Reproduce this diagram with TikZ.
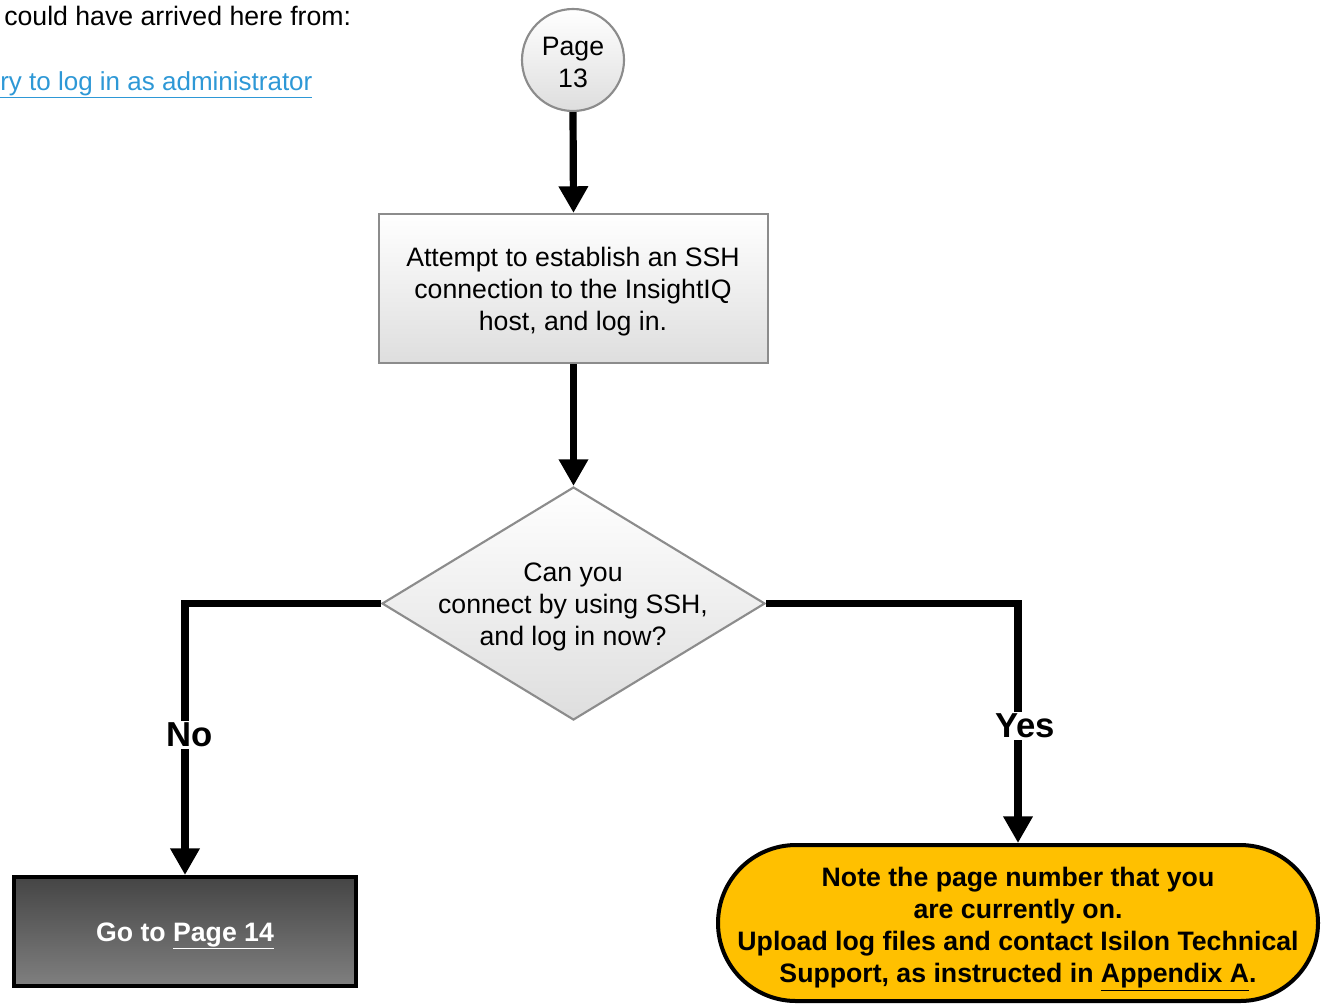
\documentclass[tikz,border=0pt]{standalone}
\usepackage{fontspec}
\setmainfont{Liberation Sans}
\usetikzlibrary{arrows.meta,shapes.geometric}
\definecolor{linkblue}{RGB}{46,152,214}
\definecolor{termfill}{RGB}{255,192,0}
\definecolor{edgegray}{RGB}{140,140,140}
\begin{document}
\begin{tikzpicture}[x=0.75pt,y=-0.75pt,
  txt/.style={font=\fontsize{20pt}{24pt}\selectfont, align=center},
  boldtxt/.style={font=\bfseries\fontsize{20pt}{24pt}\selectfont, align=center},
  softfill/.style={top color=white, bottom color=black!13, draw=edgegray, line width=1.6pt},
  flow/.style={line width=5.4pt, -{Triangle[width=21pt,length=20pt]}},
  branch/.style={font=\bfseries\fontsize{26pt}{30pt}\selectfont, fill=white, inner sep=1.5pt},
]
\useasboundingbox (0,0) rectangle (1326,1004);

% header lines
\node[anchor=base west, inner sep=0, txt] (origin) at (4,25) {could have arrived here from:};
\node[anchor=base west, inner sep=0, font=\fontsize{19.5pt}{24pt}\selectfont, text=linkblue] (link) at (0,90)
  {\underline{ry to log in as administrator}};

% page marker
\node[circle, softfill, minimum size=102*0.75pt, inner sep=0] (start) at (573,60) {};
\node[txt] (starttext) at (573,62) {Page\\13};

% action step
\node[rectangle, softfill, minimum width=389*0.75pt, minimum height=149*0.75pt, inner sep=0] (attempt) at (573.5,288.5) {};
\node[txt] (attempttext) at (573,292)
  {Attempt to establish an SSH\\connection to the InsightIQ\\host, and log in.};

% decision
\node[diamond, softfill, minimum width=383*0.75pt, minimum height=233*0.75pt, inner sep=0] (ask) at (573.5,603.5) {};
\node[txt] (asktext) at (573,607) {Can you\\connect by using SSH,\\and log in now?};

% outcomes
\node[rectangle, draw=black, line width=3pt, top color=black!73, bottom color=black!50,
      minimum width=342*0.75pt, minimum height=109*0.75pt, inner sep=0] (goto) at (185,931.5) {};
\node[boldtxt, text=white] (gototext) at (185,936) {Go to \underline{Page 14}};
\node[rectangle, rounded corners=58.5pt, draw=black, line width=3pt, fill=termfill,
      minimum width=600*0.75pt, minimum height=156*0.75pt, inner sep=0] (note) at (1018,923) {};
\node[boldtxt] (notetext) at (1018,929)
  {Note the page number that you\\are currently on.\\Upload log files and contact Isilon Technical\\Support, as instructed in \underline{Appendix A}.};

% connectors
\draw[flow] (start.south) -- (attempt.north);
\draw[flow] (attempt.south) -- (ask.north);
\draw[flow] (ask.west) -| (goto.north);
\draw[flow] (ask.east) -| (note.north);

% branch labels
\node[branch] (no) at (190,735) {No};
\node[branch] (yes) at (1025,726) {Yes};
\end{tikzpicture}
\end{document}
